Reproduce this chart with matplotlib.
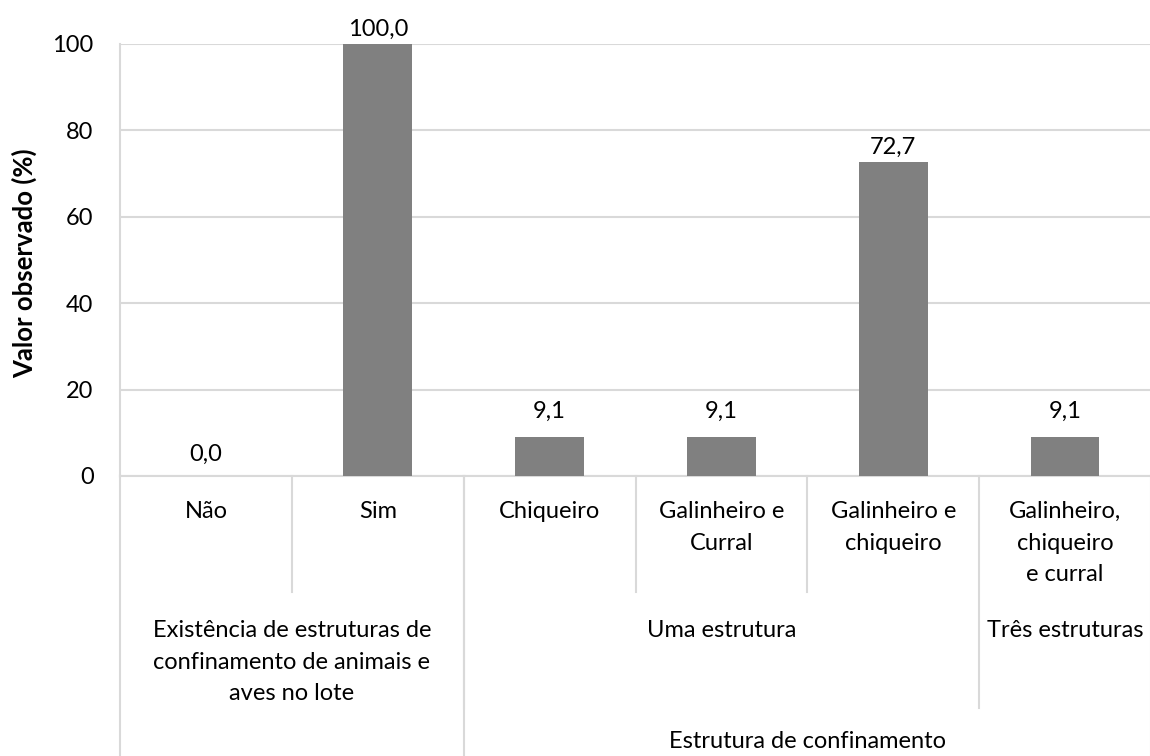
import matplotlib
matplotlib.use("Agg")
import matplotlib.pyplot as plt
from matplotlib.transforms import blended_transform_factory

plt.rcParams["font.family"] = ["Lato", "DejaVu Sans"]

# categorias em três níveis
categorias = ["Não", "Sim", "Chiqueiro", "Galinheiro e\nCurral",
              "Galinheiro e\nchiqueiro", "Galinheiro,\nchiqueiro\ne curral"]
valores = [0.0, 100.0, 9.1, 9.1, 72.7, 9.1]
rotulos = ["0,0", "100,0", "9,1", "9,1", "72,7", "9,1"]

grupos_nivel2 = ["Existência de estruturas de\nconfinamento de animais e\naves no lote",
                 "Uma estrutura", "Três estruturas"]
limites_nivel2 = [(0, 2), (2, 5), (5, 6)]
grupos_nivel3 = ["Estrutura de confinamento"]
limites_nivel3 = [(2, 6)]

W, H = 1150, 756
fs = 17
fig = plt.figure(figsize=(W / 100, H / 100), dpi=100)
ax = fig.add_axes([120 / W, (H - 476) / H, 1031 / W, 432 / H])

cinza = "#d9d9d9"
xs = [i + 0.5 for i in range(len(valores))]
ax.bar(xs, valores, width=0.4, color="#808080", zorder=3)

ax.set_xlim(0, len(valores))
ax.set_ylim(0, 100)
ax.set_yticks(range(0, 101, 20))
ax.tick_params(axis="y", length=0, pad=19, labelsize=fs)
ax.set_xticks([])
ax.grid(axis="y", color=cinza, linewidth=1.5, zorder=0)
for lado in ["top", "right", "bottom"]:
    ax.spines[lado].set_visible(False)
ax.spines["left"].set_color(cinza)
ax.spines["left"].set_linewidth(1.5)

# rótulos de dados acima das barras
desloc = [8, 3, 11, 11, 3, 11]
for x, v, r, d in zip(xs, valores, rotulos, desloc):
    ax.annotate(r, (x, v), xytext=(0, d), textcoords="offset points",
                ha="center", va="bottom", fontsize=fs)

# eixo de categorias em vários níveis (y em pixels da figura)
tr = blended_transform_factory(ax.transData, fig.transFigure)


def fy(py):
    return 1 - py / H


def linha(x, y0, y1):
    ax.plot([x, x], [fy(y0), fy(y1)], transform=tr, color=cinza,
            linewidth=1.5, clip_on=False)


for x, r in zip(xs, categorias):
    ax.text(x, fy(501), r, transform=tr, ha="center", va="top",
            fontsize=fs, linespacing=1.62)

for r, (a, b) in zip(grupos_nivel2, limites_nivel2):
    ax.text((a + b) / 2, fy(620), r, transform=tr, ha="center", va="top",
            fontsize=fs, linespacing=1.62)

for r, (a, b) in zip(grupos_nivel3, limites_nivel3):
    ax.text((a + b) / 2, fy(731), r, transform=tr, ha="center", va="top",
            fontsize=fs)

# divisórias entre categorias
linha(0, 476, H)
linha(len(valores), 476, H)
for x in [1, 3, 4]:
    linha(x, 476, 592)
for a, b in limites_nivel2[1:]:
    linha(a, 476, 708)
for a, b in limites_nivel3:
    linha(a, 476, H)
ax.plot([0, len(valores)], [fy(476), fy(476)], transform=tr, color=cinza,
        linewidth=1.5, clip_on=False)

fig.text(24 / W, fy(263), "Valor observado (%)", rotation=90, ha="center",
         va="center", fontsize=18.5, fontweight="bold")

fig.savefig("out.png", dpi=100)
